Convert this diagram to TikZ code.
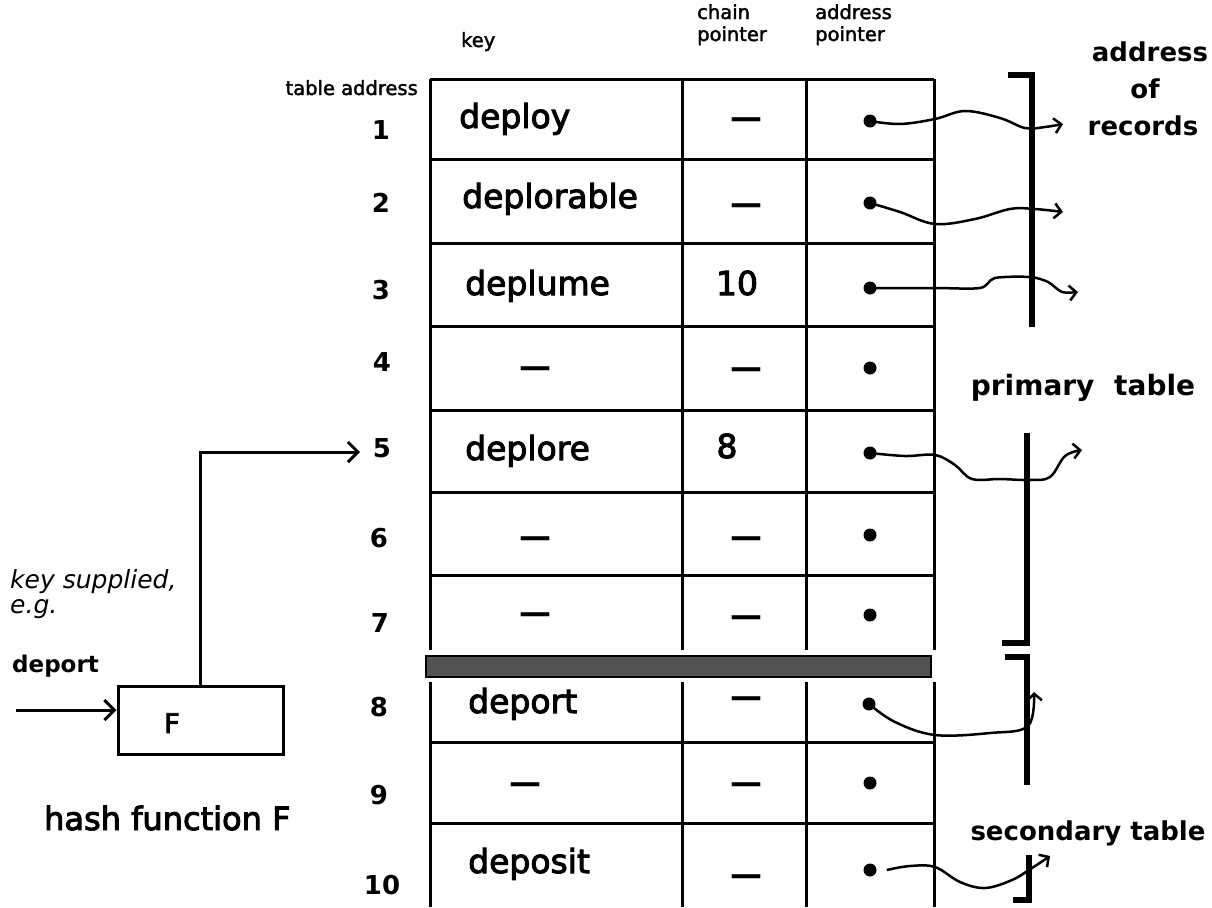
\documentclass[tikz,border=0pt]{standalone}
\usepackage{fontspec}
\setmainfont{DejaVu Sans}
\newfontfamily\heavy[FakeBold=3]{DejaVu Sans}
\newfontfamily\hdrfont[FakeBold=2]{DejaVu Sans}
\usetikzlibrary{arrows.meta}
\begin{document}
\begin{tikzpicture}[x=1pt,y=-1pt,
  tbl/.style={line width=3pt},
  keytxt/.style={font=\heavy\fontsize{33}{36}\selectfont, anchor=base west, inner sep=0},
  chtxt/.style={font=\heavy\fontsize{33}{36}\selectfont, anchor=base, inner sep=0},
  dashtxt/.style={font=\bfseries\fontsize{32}{36}\selectfont, anchor=center, inner sep=0, yshift=-5pt},
  num/.style={font=\bfseries\fontsize{26}{28}\selectfont, inner sep=0},
  hdr/.style={font=\hdrfont\fontsize{19.5}{22}\selectfont, inner sep=0, align=left, anchor=north west},
  lbl/.style={font=\bfseries\fontsize{26}{30}\selectfont, inner sep=0, anchor=base},
  dot/.style={circle, fill=black, inner sep=0, minimum size=13pt},
  wave/.style={line width=2.5pt, -{Straight Barb[length=7pt,width=15pt,line width=2.5pt]}},
  brk/.style={line width=6pt},
  bigarrow/.style={line width=3pt, -{Straight Barb[length=10pt,width=20pt,line width=3pt]}},
]
\useasboundingbox (0,0) rectangle (1212,907);

% table grid
\draw[tbl] (430,79) -- (934,79);
\foreach \y in {159,243,326,410,492,575,742,823}
  \draw[tbl] (430,\y) -- (934,\y);
\foreach \x in {430,682,806,934} {
  \draw[tbl] (\x,79) -- (\x,650);
  \draw[tbl] (\x,682) -- (\x,907);
}
% divider bar
\draw[line width=2.5pt, fill=black!68] (426,656) rectangle (931,677);

% headers
\node[hdr, anchor=base west] (hkey) at (461,47) {key};
\node[hdr] (hchain) at (697,4) {chain\\pointer};
\node[hdr] (haddr) at (815,4) {address\\pointer};
\node[hdr, anchor=base east] (htab) at (418,95) {table address};

% row numbers
\node[num] (n1) at (381,130) {1};
\node[num] (n2) at (381,203) {2};
\node[num] (n3) at (381,290) {3};
\node[num] (n4) at (382,362) {4};
\node[num] (n5) at (382,448) {5};
\node[num] (n6) at (379,538) {6};
\node[num] (n7) at (380,623) {7};
\node[num] (n8) at (379,707) {8};
\node[num] (n9) at (379,795) {9};
\node[num] (n10) at (382,885) {10};

% key column
\node[keytxt] (k1) at (459,128) {deploy};
\node[keytxt] (k2) at (462,208) {deplorable};
\node[keytxt] (k3) at (465,295) {deplume};
\node[dashtxt] (k4) at (535,367) {—};
\node[keytxt] (k5) at (465,460) {deplore};
\node[dashtxt] (k6) at (535,537) {—};
\node[dashtxt] (k7) at (535,613) {—};
\node[keytxt] (k8) at (468,713) {deport};
\node[dashtxt] (k9) at (525,783) {—};
\node[keytxt] (k10) at (468,873) {deposit};

% chain pointer column
\node[dashtxt] (c1) at (746,118) {—};
\node[dashtxt] (c2) at (746,204) {—};
\node[chtxt] (c3) at (737,295) {10};
\node[dashtxt] (c4) at (746,368) {—};
\node[chtxt] (c5) at (727,458) {8};
\node[dashtxt] (c6) at (746,537) {—};
\node[dashtxt] (c7) at (746,616) {—};
\node[dashtxt] (c8) at (746,697) {—};
\node[dashtxt] (c9) at (746,783) {—};
\node[dashtxt] (c10) at (746,875) {—};

% address pointer dots
\node[dot] (d1) at (870,121) {};
\node[dot] (d2) at (870,203) {};
\node[dot] (d3) at (870,288) {};
\node[dot] (d4) at (870,368) {};
\node[dot] (d5) at (870,453) {};
\node[dot] (d6) at (870,535) {};
\node[dot] (d7) at (870,615) {};
\node[dot] (d8) at (869,704) {};
\node[dot] (d9) at (870,783) {};
\node[dot] (d10) at (870,870) {};

% wavy pointers
\draw[wave] plot[smooth, tension=0.6] coordinates {(d1) (900,124) (935,119) (965,111) (1000,118) (1025,128) (1045,127) (1063,124)};
\draw[wave] plot[smooth, tension=0.6] coordinates {(d2) (900,212) (935,224) (975,219) (1010,209) (1035,209) (1063,212)};
\draw[wave] plot[smooth, tension=0.5] coordinates {(d3) (935,288) (980,288) (995,278) (1030,277) (1048,282) (1062,292) (1078,292)};
\draw[wave] plot[smooth, tension=0.6] coordinates {(d5) (905,456) (935,455) (955,465) (972,479) (1000,479) (1030,480) (1050,477) (1065,456) (1082,450)};
\draw[wave] plot[smooth, tension=0.6] coordinates {(d8) (895,722) (935,735) (990,733) (1028,726) (1034,692)};
\draw[wave] plot[smooth, tension=0.6] coordinates {([xshift=10pt]d10.east) (910,866) (935,867) (960,882) (985,888) (1012,880) (1032,868) (1050,856)};

% brackets
\draw[brk] (1008,75) -- (1032,75) -- (1032,327);
\draw[brk] (1027,433) -- (1027,643) -- (1002,643);
\draw[brk] (1005,657) -- (1027,657) -- (1027,785);
\draw[brk] (1029,855) -- (1029,900) -- (1013,900);

% right labels
\node[lbl] (ra) at (1150,62) {address};
\node[lbl] (rb) at (1145,98) {of};
\node[lbl] (rc) at (1143,135) {records};
\node[lbl, font=\bfseries\fontsize{28}{30}\selectfont] (prim) at (1083,395) {primary\hspace{10pt} table};
\node[lbl] (sec) at (1088,840) {secondary table};

% left: key supplied and hash function
\node[font=\itshape\fontsize{25}{28}\selectfont, anchor=base west, inner sep=0] (ks) at (10,588) {key supplied,};
\node[font=\itshape\fontsize{25}{28}\selectfont, anchor=base west, inner sep=0] (eg) at (10,613) {e.g.};
\node[font=\bfseries\fontsize{23}{28}\selectfont, anchor=base west, inner sep=0] (dep) at (12,672) {deport};
\node[draw, line width=3pt, minimum width=165pt, minimum height=68pt, inner sep=0] (F) at (200.5,720) {};
\node[font=\heavy\fontsize{27}{30}\selectfont, anchor=base, inner sep=0] (Ft) at (172,733) {F};
\node[font=\heavy\fontsize{32}{36}\selectfont, anchor=base west, inner sep=0] (hf) at (44,830) {hash function F};
\coordinate (in) at (16,710);
\coordinate (a5) at (360,452);
\draw[bigarrow] (in) -- (in -| F.west);
\draw[bigarrow] (F.north) |- (a5);
\end{tikzpicture}
\end{document}
